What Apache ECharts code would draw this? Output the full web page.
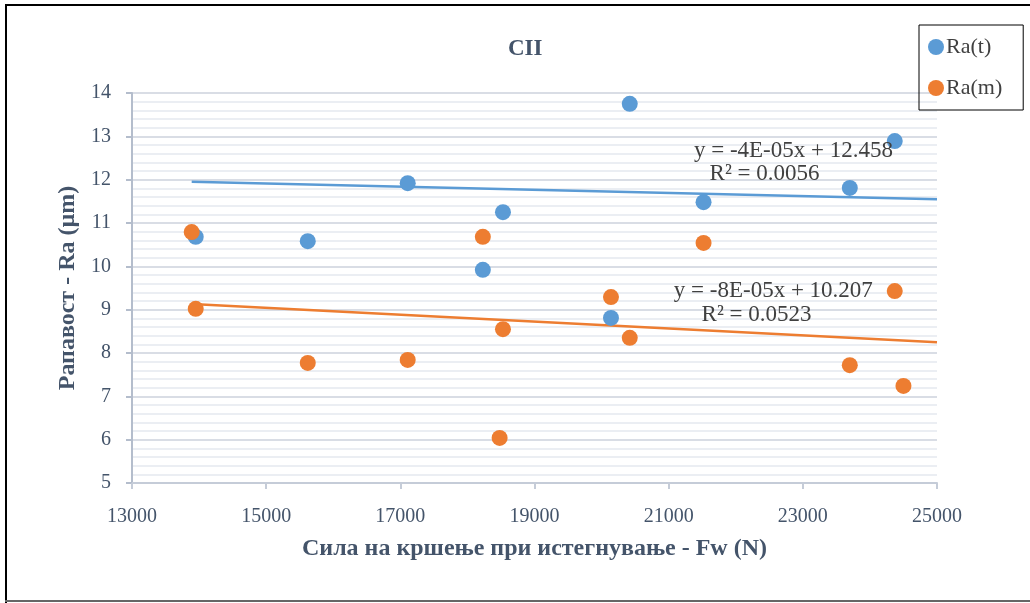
<!DOCTYPE html>
<html>
<head>
<meta charset="utf-8">
<script src="https://cdn.jsdelivr.net/npm/echarts@6/dist/echarts.min.js"></script>
<style>
  html, body { margin: 0; padding: 0; background: #fff; }
  #chart { width: 1030px; height: 603px; }
</style>
</head>
<body>
<div id="chart"></div>
<script>
// Ra(t) and Ra(m) against Fw
const fwT = [13950, 15620, 17110, 18230, 18530, 20140, 20420, 21520, 23700, 24370];
const raT = [10.68, 10.58, 11.92, 9.92, 11.25, 8.81, 13.75, 11.48, 11.81, 12.89];

const fwM = [13890, 13950, 15620, 17110, 18230, 18480, 18530, 20140, 20420, 21520, 23700, 24370, 24500];
const raM = [10.79, 9.02, 7.77, 7.84, 10.68, 6.04, 8.55, 9.29, 8.35, 10.54, 7.72, 9.43, 7.24];

// trendline ends as drawn (start at smallest x, run to 25000)
const trendX = [13890, 25000];
const trendT = [11.95, 11.55];
const trendM = [9.13, 8.25];

const eqT = ['y = -4E-05x + 12.458', 'R² = 0.0056'];
const eqM = ['y = -8E-05x + 10.207', 'R² = 0.0523'];
// where the equation labels sit, in data units
const eqTpos = [[22860, 12.66], [22430, 12.13]];
const eqMpos = [[22560, 9.43], [22310, 8.88]];

const xTicks = [13000, 25000, 2000];
const yTicks = [5, 14, 1];

const BLUE = '#5B9BD5';
const ORANGE = '#ED7D31';
const TEXT = '#44546A';
const SERIF = '"Liberation Serif", "DejaVu Serif", serif';

function zip(xs, ys) {
    return xs.map((x, i) => [x, ys[i]]);
}

function eqMarks(lines, pos) {
    return lines.map((t, i) => ({
        coord: pos[i],
        value: t,
        symbolSize: 0,
        label: {
            show: true,
            position: 'inside',
            formatter: t,
            color: '#404040',
            fontFamily: SERIF,
            fontSize: 23
        }
    }));
}

const chart = echarts.init(document.getElementById('chart'));

chart.setOption({
    animation: false,
    backgroundColor: '#fff',
    title: {
        text: 'СII',
        left: 503,
        top: 33,
        textStyle: { fontFamily: SERIF, fontSize: 23, fontWeight: 'bold', color: TEXT }
    },
    legend: {
        data: ['Ra(t)', 'Ra(m)'],
        orient: 'vertical',
        left: 919,
        top: 25,
        padding: [11, 21, 11, 9],
        itemGap: 19,
        itemWidth: 16,
        itemHeight: 16,
        borderColor: '#000',
        borderWidth: 1,
        icon: 'circle',
        textStyle: { fontFamily: SERIF, fontSize: 22, color: '#404040', padding: [0, 0, 0, -3] }
    },
    grid: { left: 132, right: 93, top: 93, bottom: 120 },
    xAxis: {
        type: 'value',
        min: xTicks[0],
        max: xTicks[1],
        interval: xTicks[2],
        name: 'Сила на кршење при истегнување - Fw (N)',
        nameLocation: 'middle',
        nameGap: 54,
        nameTextStyle: { fontFamily: SERIF, fontSize: 24, fontWeight: 'bold', color: TEXT },
        axisLine: { show: true, lineStyle: { color: '#c5ccd8', width: 2 } },
        axisTick: { show: true, length: 6, lineStyle: { color: '#c5ccd8', width: 2 } },
        axisLabel: { margin: 24, fontFamily: SERIF, fontSize: 20, color: TEXT, formatter: v => String(v) },
        splitLine: { show: false }
    },
    yAxis: {
        type: 'value',
        min: yTicks[0],
        max: yTicks[1],
        interval: yTicks[2],
        name: 'Рапавост - Ra (µm)',
        nameLocation: 'middle',
        nameGap: 46,
        nameTextStyle: { fontFamily: SERIF, fontSize: 24, fontWeight: 'bold', color: TEXT },
        axisLine: { show: true, lineStyle: { color: '#b4bdcc', width: 2 } },
        axisTick: { show: true, length: 6, lineStyle: { color: '#b4bdcc', width: 2 } },
        axisLabel: { margin: 21, fontFamily: SERIF, fontSize: 20, color: TEXT },
        splitLine: { show: true, lineStyle: { color: '#d9dde5', width: 2 } },
        minorTick: { show: false, splitNumber: 5 },
        minorSplitLine: { show: true, lineStyle: { color: '#ebeef3', width: 2 } }
    },
    series: [
        {
            name: 'Ra(t)',
            type: 'scatter',
            data: zip(fwT, raT),
            symbolSize: 16,
            itemStyle: { color: BLUE, opacity: 1 },
            z: 3
        },
        {
            name: 'Ra(m)',
            type: 'scatter',
            data: zip(fwM, raM),
            symbolSize: 16,
            itemStyle: { color: ORANGE, opacity: 1 },
            z: 4
        },
        {
            name: 'trend t',
            type: 'line',
            data: zip(trendX, trendT),
            showSymbol: false,
            lineStyle: { color: BLUE, width: 2.5 },
            z: 2,
            markPoint: { symbol: 'circle', data: eqMarks(eqT, eqTpos) }
        },
        {
            name: 'trend m',
            type: 'line',
            data: zip(trendX, trendM),
            showSymbol: false,
            lineStyle: { color: ORANGE, width: 2.5 },
            z: 2,
            markPoint: { symbol: 'circle', data: eqMarks(eqM, eqMpos) }
        }
    ],
    graphic: [
        // outer frame as in the picture: black top/left, grey bottom
        { type: 'line', shape: { x1: 5, y1: 5, x2: 1030, y2: 5 }, style: { stroke: '#000', lineWidth: 2 } },
        { type: 'line', shape: { x1: 6, y1: 4, x2: 6, y2: 603 }, style: { stroke: '#000', lineWidth: 2 } },
        { type: 'line', shape: { x1: 5, y1: 601, x2: 1030, y2: 601 }, style: { stroke: '#666', lineWidth: 2 } }
    ]
});

window.addEventListener('resize', () => chart.resize());
</script>
</body>
</html>
